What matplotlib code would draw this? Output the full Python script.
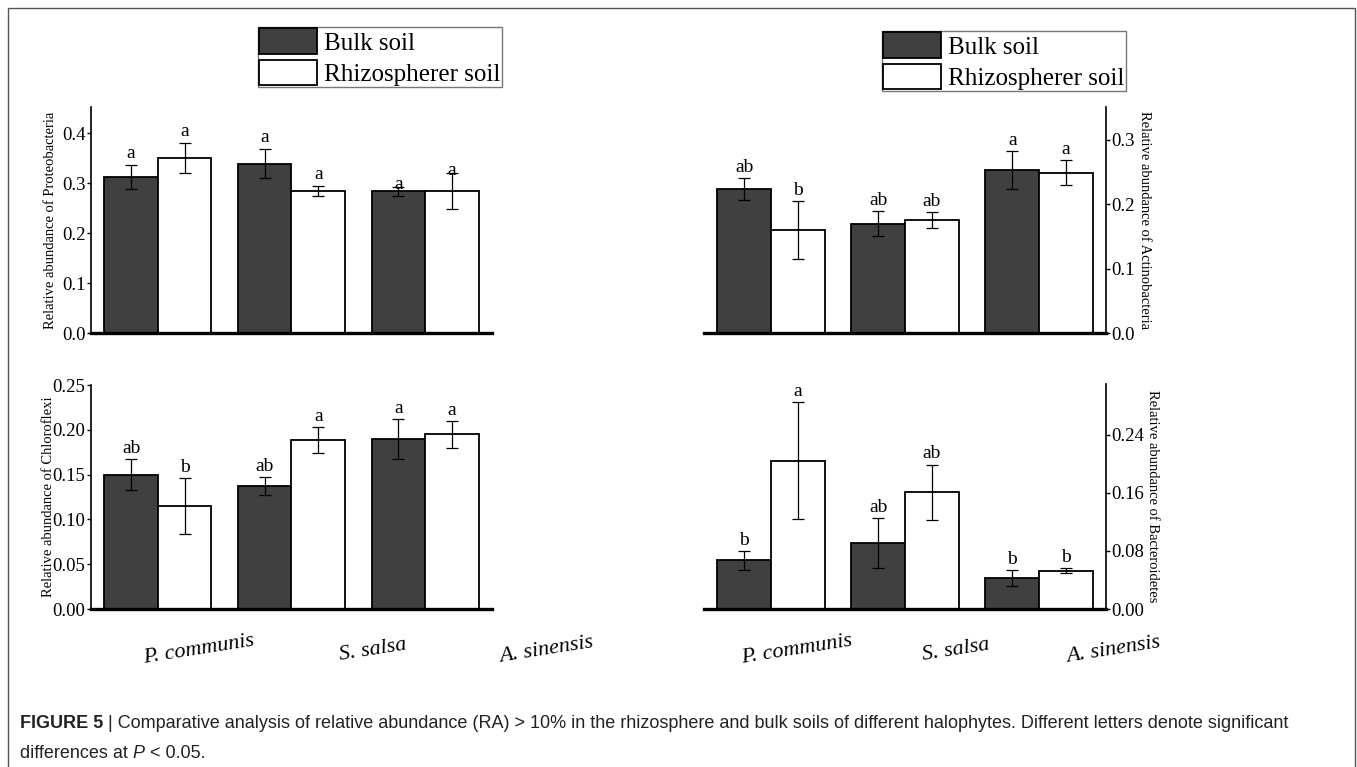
"""Relative abundance of dominant phyla in bulk vs rhizosphere soils (Figure 5)."""

import matplotlib
matplotlib.use('Agg')
import matplotlib.pyplot as plt
from matplotlib.patches import Patch, Rectangle

plt.rcParams['font.family'] = ['Liberation Serif', 'DejaVu Serif']

plants = ['P. communis', 'S. salsa', 'A. sinensis']
series = ['Bulk soil', 'Rhizospherer soil']

# panel data: (bulk, rhizo) mean and error per plant
proteo_bulk = [0.313, 0.339, 0.284]
proteo_bulk_err = [0.024, 0.030, 0.009]
proteo_rhizo = [0.351, 0.285, 0.285]
proteo_rhizo_err = [0.030, 0.010, 0.036]
proteo_letters = ['a', 'a', 'a', 'a', 'a', 'a']

actino_bulk = [0.223, 0.170, 0.253]
actino_bulk_err = [0.017, 0.019, 0.029]
actino_rhizo = [0.160, 0.1755, 0.249]
actino_rhizo_err = [0.045, 0.013, 0.019]
actino_letters = ['ab', 'b', 'ab', 'ab', 'a', 'a']

chloro_bulk = [0.150, 0.1376, 0.1895]
chloro_bulk_err = [0.017, 0.010, 0.022]
chloro_rhizo = [0.115, 0.1888, 0.195]
chloro_rhizo_err = [0.031, 0.0145, 0.015]
chloro_letters = ['ab', 'b', 'ab', 'a', 'a', 'a']

bacter_bulk = [0.067, 0.091, 0.043]
bacter_bulk_err = [0.013, 0.034, 0.011]
bacter_rhizo = [0.2046, 0.161, 0.053]
bacter_rhizo_err = [0.080, 0.038, 0.004]
bacter_letters = ['b', 'a', 'ab', 'ab', 'b', 'b']

W, H = 1357, 767
fig = plt.figure(figsize=(W / 100, H / 100), dpi=100)


def px_axes(x0, x1, ytop, ybot):
    return fig.add_axes([x0 / W, 1 - ybot / H, (x1 - x0) / W, (ybot - ytop) / H])


def draw_panel(ax, bulk, bulk_err, rhizo, rhizo_err, letters, ylim, ticks,
               fmt, ylabel, side, label_x, nudge=None):
    x = range(len(plants))
    w = 0.4
    xb = [i - w / 2 for i in x]
    xr = [i + w / 2 for i in x]
    ax.bar(xb, bulk, w, color='#404040', edgecolor='black', linewidth=1.3, zorder=2)
    ax.bar(xr, rhizo, w, color='white', edgecolor='black', linewidth=1.3, zorder=2)
    ax.errorbar(xb, bulk, yerr=bulk_err, fmt='none', ecolor='black', elinewidth=0.9,
                capsize=4, capthick=0.9, zorder=3)
    ax.errorbar(xr, rhizo, yerr=rhizo_err, fmt='none', ecolor='black', elinewidth=0.9,
                capsize=4, capthick=0.9, zorder=3)
    ax.set_xlim(-0.5, 2.5)
    ax.set_ylim(*ylim)
    ax.set_xticks([])
    ax.set_yticks(ticks)
    ax.set_yticklabels([fmt.format(t) for t in ticks])
    ax.tick_params(axis='y', labelsize=13.5, direction='out', length=3, width=1, pad=1)

    tops = []
    xs = []
    for i in x:
        tops += [bulk[i] + bulk_err[i], rhizo[i] + rhizo_err[i]]
        xs += [xb[i], xr[i]]
    if nudge is None:
        nudge = [0] * len(tops)
    for xi, t, lab, n in zip(xs, tops, letters, nudge):
        ax.annotate(lab, (xi, t), xytext=(0, 1.5 + n), textcoords='offset points',
                    ha='center', va='bottom', fontsize=14, zorder=4)

    for s in ['top', 'left', 'right']:
        ax.spines[s].set_visible(False)
    ax.spines['bottom'].set_linewidth(2.4)
    ax.spines[side].set_visible(True)
    ax.spines[side].set_linewidth(1.2)
    if side == 'right':
        ax.yaxis.tick_right()
        ax.yaxis.set_label_position('right')
        ax.set_ylabel(ylabel, fontsize=10.5, rotation=-90, va='center')
    else:
        ax.set_ylabel(ylabel, fontsize=10.5, va='center')
    ax.yaxis.set_label_coords(label_x, 0.5)


# reference has the letters of the last group in this panel pushed down
proteo_nudge = [0, 0, 0, 0, -6, -6]

ax1 = px_axes(91, 492, 107, 333)
draw_panel(ax1, proteo_bulk, proteo_bulk_err, proteo_rhizo, proteo_rhizo_err,
           proteo_letters, (0, 0.452), [0.0, 0.1, 0.2, 0.3, 0.4], '{:.1f}',
           'Relative abundance of Proteobacteria', 'left', -0.1, proteo_nudge)

ax2 = px_axes(704, 1106, 107, 333)
draw_panel(ax2, actino_bulk, actino_bulk_err, actino_rhizo, actino_rhizo_err,
           actino_letters, (0, 0.351), [0.0, 0.1, 0.2, 0.3], '{:.1f}',
           'Relative abundance of Actinobacteria', 'right', 1.097)

ax3 = px_axes(91, 492, 385, 609)
draw_panel(ax3, chloro_bulk, chloro_bulk_err, chloro_rhizo, chloro_rhizo_err,
           chloro_letters, (0, 0.25), [0.0, 0.05, 0.10, 0.15, 0.20, 0.25], '{:.2f}',
           'Relative abundance of Chloroflexi', 'left', -0.105)

ax4 = px_axes(704, 1106, 384, 609)
draw_panel(ax4, bacter_bulk, bacter_bulk_err, bacter_rhizo, bacter_rhizo_err,
           bacter_letters, (0, 0.31), [0.0, 0.08, 0.16, 0.24], '{:.2f}',
           'Relative abundance of Bacteroidetes', 'right', 1.115)

# plant names below the bottom panels (spaced independently of bars, as in reference)
for xs in ([199, 373, 546], [797, 956, 1113]):
    for xp, name in zip(xs, plants):
        fig.text(xp / W, 1 - 650 / H, name, ha='center', va='center',
                 rotation=9, fontsize=16, style='italic')

# legends
handles = [Patch(facecolor='#404040', edgecolor='black', linewidth=1.3),
           Patch(facecolor='white', edgecolor='black', linewidth=1.3)]
for x0, y0 in ((258, 27), (882, 31)):
    leg = fig.legend(handles, series, loc='upper left',
                     bbox_to_anchor=(x0 / W, 1 - y0 / H), fontsize=18,
                     frameon=True, fancybox=False, borderpad=0.05,
                     handlelength=2.3, handleheight=1.2, handletextpad=0.3,
                     labelspacing=0.2, borderaxespad=0)
    leg.get_frame().set_edgecolor('#555555')
    leg.get_frame().set_linewidth(1)

# outer frame
fig.patches.append(Rectangle((8 / W, -0.05), (1355 - 8) / W, 1.05 - 8 / H,
                             transform=fig.transFigure, fill=False,
                             edgecolor='#555555', linewidth=1))

# caption
sans = ['Liberation Sans', 'DejaVu Sans']
cap_size = 13
t1 = fig.text(20 / W, 1 - 724 / H, 'FIGURE 5', fontsize=cap_size, family=sans,
              weight='bold', va='center', color='#222222')
plt.annotate(' | Comparative analysis of relative abundance (RA) > 10% in the '
             'rhizosphere and bulk soils of different halophytes. Different '
             'letters denote significant', xy=(1, 0.5), xycoords=t1,
             va='center', ha='left', fontsize=cap_size, family=sans, color='#222222')
t3 = fig.text(20 / W, 1 - 753 / H, 'differences at ', fontsize=cap_size, family=sans,
              va='center', color='#222222')
t4 = plt.annotate('P', xy=(1, 0.5), xycoords=t3, va='center', ha='left',
                  fontsize=cap_size, family=sans, style='italic', color='#222222')
plt.annotate(' < 0.05.', xy=(1, 0.5), xycoords=t4, va='center', ha='left',
             fontsize=cap_size, family=sans, color='#222222')

fig.savefig('out.png', dpi=100)
